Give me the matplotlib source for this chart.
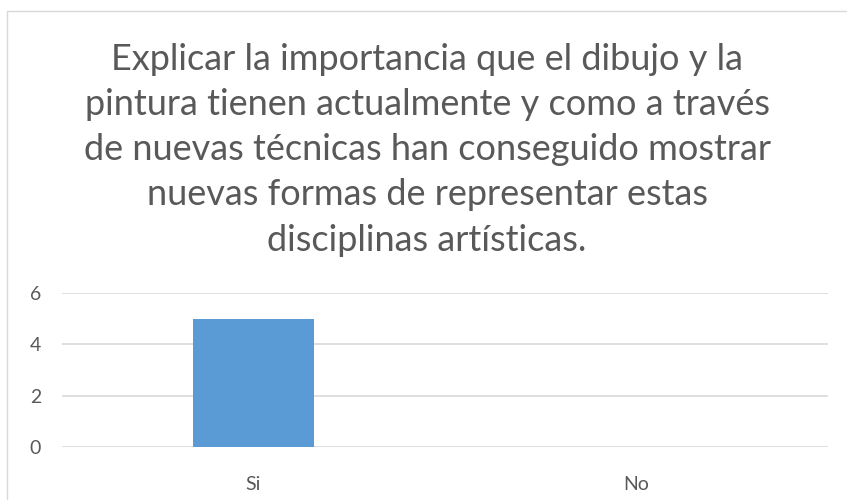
import matplotlib
matplotlib.use("Agg")
import matplotlib.pyplot as plt
from matplotlib.patches import Rectangle

categories = ["Si", "No"]
values = [5, 0]
yticks = [0, 2, 4, 6]
title = ("Explicar la importancia que el dibujo y la\n"
         "pintura tienen actualmente y como a través\n"
         "de nuevas técnicas han conseguido mostrar\n"
         "nuevas formas de representar estas\n"
         "disciplinas artísticas.")

plt.rcParams['font.family'] = ['Lato', 'DejaVu Sans']
W, H = 847, 500
fig = plt.figure(figsize=(W/100, H/100), dpi=100)
fig.patch.set_facecolor('white')

# chart border
fig.add_artist(Rectangle((7/W, -0.01), 1.0, (H-11)/H + 0.01, transform=fig.transFigure,
                         fill=False, edgecolor='#d9d9d9', linewidth=1))

ax = fig.add_axes([62/W, 1-447/H, (828-62)/W, (447-293)/H])
x = list(range(len(categories)))
ax.bar(x, values, width=0.316, color='#5b9bd5', zorder=3)
ax.set_xlim(-0.5, len(categories)-0.5)
ax.set_ylim(0, 6)
ax.set_yticks(yticks)
ax.set_xticks(x)
ax.set_xticklabels(categories)
ax.grid(axis='y', color='#d9d9d9', linewidth=1.2, zorder=0)
for s in ax.spines.values():
    s.set_visible(False)
ax.tick_params(axis='both', length=0, labelsize=14, colors='#595959')
ax.tick_params(axis='y', pad=15)
ax.tick_params(axis='x', pad=21)

fig.text(427/W, 1-43/H, title, ha='center', va='top', fontsize=26,
         color='#595959', linespacing=1.45)

fig.savefig("out.png", dpi=100)
